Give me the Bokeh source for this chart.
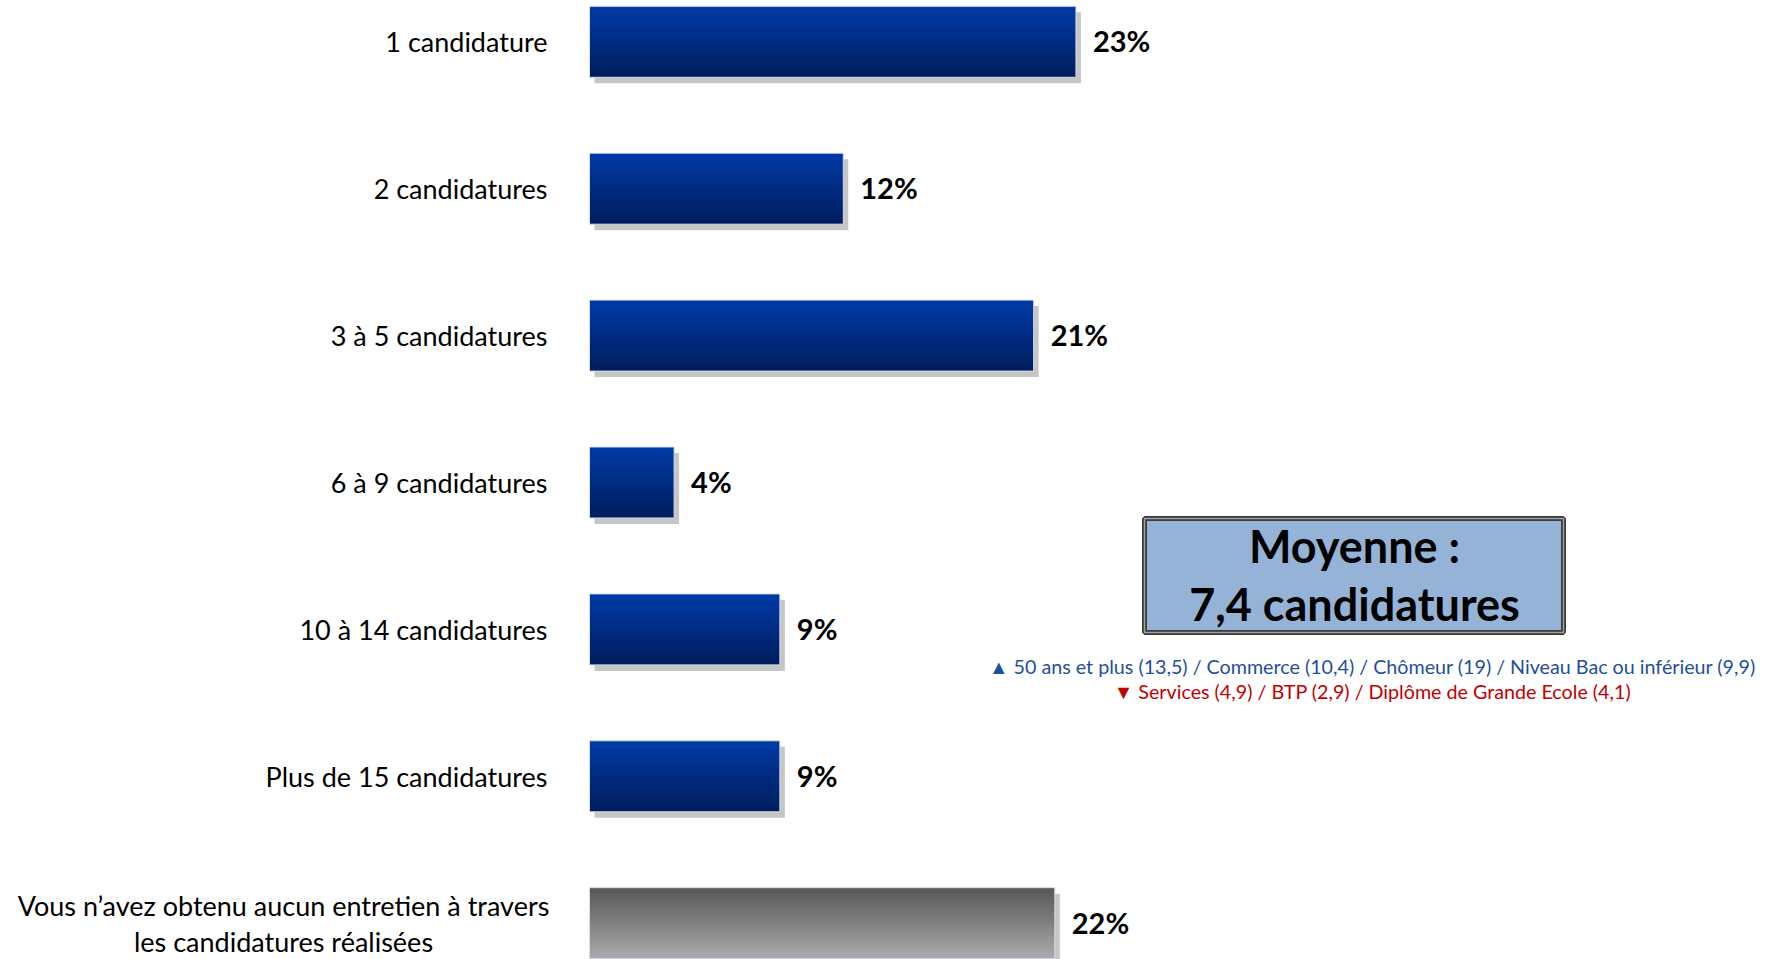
from bokeh.plotting import figure
from bokeh.models import Range1d, ColumnDataSource
from bokeh.core.properties import value
from bokeh.embed import file_html
from bokeh.resources import INLINE

# ---------------- data ----------------
categories = [
    "1 candidature",
    "2 candidatures",
    "3 à 5 candidatures",
    "6 à 9 candidatures",
    "10 à 14 candidatures",
    "Plus de 15 candidatures",
    "Vous n’avez obtenu aucun entretien à travers\nles candidatures réalisées",
]
values = [23, 12, 21, 4, 9, 9, 22]
value_labels = ["23%", "12%", "21%", "4%", "9%", "9%", "22%"]
is_none_row = [False, False, False, False, False, False, True]
mean_title = "Moyenne :"
mean_value = "7,4 candidatures"
note_up = "▲ 50 ans et plus (13,5) / Commerce (10,4) / Chômeur (19) / Niveau Bac ou inférieur (9,9)"
note_down = "▼ Services (4,9) / BTP (2,9) / Diplôme de Grande Ecole (4,1)"

# ---------------- layout ----------------
W, H = 1773, 959
PX = 21.15          # pixels per percent
X0_PX = 589         # frame pixel of x = 0
ROW_PX = 146.9      # pixels per row
Y0_PX = 41.3        # frame pixel of first row centre
BAR_H = 71 / ROW_PX

x_range = Range1d(-X0_PX / PX, (W - X0_PX) / PX)
y_top = Y0_PX / ROW_PX
y_range = Range1d(y_top - H / ROW_PX, y_top)


def sx(px):  # frame px -> data x
    return (px - X0_PX) / PX


def sy(py):  # frame px -> data y
    return y_top - py / ROW_PX


p = figure(width=W, height=H, x_range=x_range, y_range=y_range,
           output_backend="svg", toolbar_location=None, min_border=0,
           outline_line_color=None, background_fill_color="white",
           border_fill_color="white")
p.axis.visible = False
p.grid.visible = False

ys = [-i for i in range(len(values))]

# shadows
p.hbar(y=[y - 6 / ROW_PX for y in ys], left=5 / PX,
       right=[v + 5 / PX for v in values], height=BAR_H,
       fill_color="#C6C6C6", line_color=None)


def lerp(c1, c2, t):
    return "#%02x%02x%02x" % tuple(int(round(a + (b - a) * t)) for a, b in zip(c1, c2))


N = 28
seg = BAR_H / N
gs = dict(left=[], right=[], top=[], bottom=[], color=[])
for y, v, grey in zip(ys, values, is_none_row):
    c_top, c_bot = ((88, 88, 88), (170, 170, 170)) if grey else ((0, 58, 166), (0, 30, 94))
    yt, yb = y + BAR_H / 2, y - BAR_H / 2
    for k in range(N):
        gs["left"].append(0)
        gs["right"].append(v)
        gs["top"].append(yt - k * seg)
        gs["bottom"].append(max(yt - (k + 1) * seg - seg * 0.6, yb))
        gs["color"].append(lerp(c_top, c_bot, k / (N - 1)))
p.quad(source=ColumnDataSource(gs), left="left", right="right", top="top",
       bottom="bottom", fill_color="color", line_color=None)

# thin light edge
p.hbar(y=ys, left=0, right=values, height=BAR_H, fill_alpha=0,
       line_color="#D6DDEE", line_width=1)

# value labels
p.text(x=[v + 17 / PX for v in values], y=[y + 1 / ROW_PX for y in ys], text=value_labels,
       text_font=value("Lato"), text_font_style="bold", text_font_size="29px",
       text_align="left", text_baseline="middle", text_color="black")

# category labels
p.text(x=sx(547), y=ys[:-1], text=categories[:-1],
       text_font=value("Lato"), text_font_size="27px",
       text_align="right", text_baseline="middle", text_color="black")
last_lines = categories[-1].split("\n")
p.text(x=sx(283), y=[ys[-1] + 18 / ROW_PX, ys[-1] - 18 / ROW_PX], text=last_lines,
       text_font=value("Lato"), text_font_size="27px",
       text_align="center", text_baseline="middle", text_color="black")

# mean box
p.quad(left=sx(1144), right=sx(1563), top=sy(518), bottom=sy(632),
       fill_color="#95B3D7", line_color="#3A3A3A", line_width=5)
p.quad(left=sx(1144), right=sx(1563), top=sy(518), bottom=sy(632),
       fill_alpha=0, line_color="#A0A0A0", line_width=1.5)
p.text(x=sx(1354), y=[sy(545), sy(603)], text=[mean_title, mean_value],
       text_font=value("Lato"), text_font_style="bold", text_font_size="45px",
       text_align="center", text_baseline="middle", text_color="black")

# notes
p.text(x=sx(1372), y=[sy(666)], text=[note_up], text_font=value("Lato"),
       text_font_size="19.7px", text_align="center", text_baseline="middle",
       text_color="#1F4E9E")
p.text(x=sx(1372), y=[sy(691)], text=[note_down], text_font=value("Lato"),
       text_font_size="19.7px", text_align="center", text_baseline="middle",
       text_color="#C00000")

open("out.html", "w").write(file_html(p, INLINE))
